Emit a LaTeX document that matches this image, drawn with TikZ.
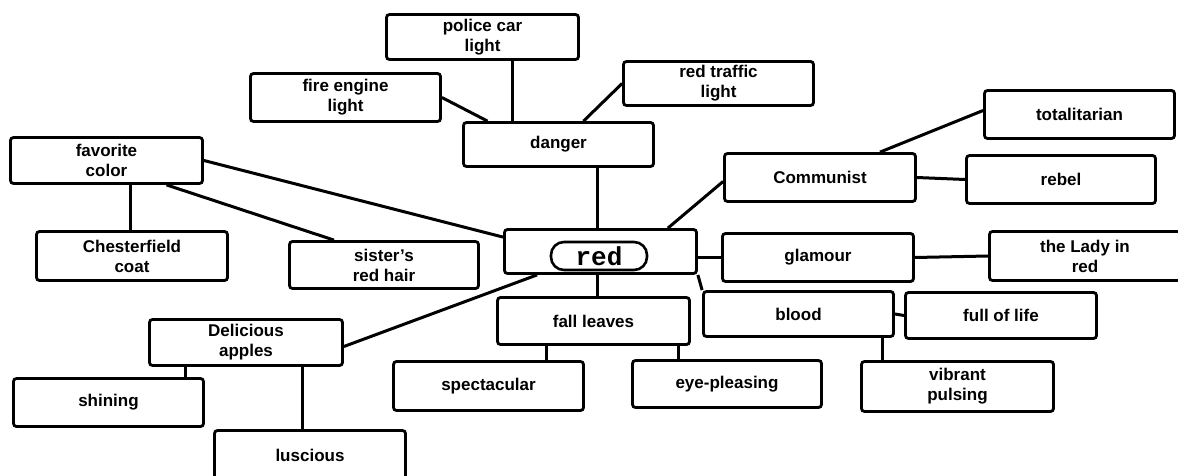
\documentclass[tikz,border=0pt]{standalone}
\usepackage{fontspec}
\setmainfont{Liberation Sans}
\newfontfamily\redmono{Liberation Mono}
\begin{document}
\begin{tikzpicture}[x=1pt,y=-1pt,
  cbox/.style={draw, line width=2.8pt, rounded corners=3pt, align=center, inner sep=0pt,
    font=\fontsize{17}{20}\selectfont\bfseries},
  conn/.style={line width=3pt}]
\useasboundingbox (0,0) rectangle (1178,476);
% nodes
\node[cbox, minimum width=192pt, minimum height=45pt] (police) at (482.5,37) {police car\\light};
\node[cbox, minimum width=190pt, minimum height=48pt] (fire) at (345.5,97.5) {fire engine\\light};
\node[cbox, minimum width=190pt, minimum height=44pt] (traffic) at (718.5,83.5) {red traffic\\light};
\node[cbox, minimum width=190pt, minimum height=44pt] (danger) at (558.5,144.5) {danger};
\node[cbox, minimum width=192pt, minimum height=46pt] (favorite) at (106.5,160.5) {favorite\\color};
\node[cbox, minimum width=191pt, minimum height=49pt] (chester) at (132,256) {Chesterfield\\coat};
\node[cbox, minimum width=189pt, minimum height=47pt] (sister) at (384,265) {sister's\\red hair};
\node[cbox, minimum width=192pt, minimum height=44pt] (red) at (600.5,251.5) {};
\node[draw, line width=2.6pt, rounded corners=13pt, minimum width=96pt, minimum height=28pt, inner sep=0pt,
  font=\fontsize{26}{26}\selectfont\redmono\bfseries] (redlabel) at (599,256) {red};
\node[cbox, minimum width=191pt, minimum height=48pt] (communist) at (820,177.5) {Communist};
\node[cbox, minimum width=190pt, minimum height=48pt] (totalitarian) at (1079.5,114.5) {totalitarian};
\node[cbox, minimum width=189pt, minimum height=48pt] (rebel) at (1061,179.5) {rebel};
\node[cbox, minimum width=191pt, minimum height=48pt] (glamour) at (818,257.5) {glamour};
\node[cbox, minimum width=191pt, minimum height=49pt] (lady) at (1085,256) {the Lady in\\red};
\node[cbox, minimum width=190pt, minimum height=45pt] (blood) at (798.5,314) {blood};
\node[cbox, minimum width=191pt, minimum height=46pt] (full) at (1001,315.5) {full of life};
\node[cbox, minimum width=192pt, minimum height=47pt] (fall) at (593.5,321) {fall leaves};
\node[cbox, minimum width=190pt, minimum height=49pt] (spectacular) at (488.5,386) {spectacular};
\node[cbox, minimum width=189pt, minimum height=47pt] (eye) at (727,384) {eye-pleasing};
\node[cbox, minimum width=192pt, minimum height=50pt] (vibrant) at (957.5,386.5) {vibrant\\pulsing};
\node[cbox, minimum width=193pt, minimum height=46pt] (delicious) at (246,342.5) {Delicious\\apples};
\node[cbox, minimum width=190pt, minimum height=48pt] (shining) at (108.5,402.5) {shining};
\node[cbox, minimum width=191pt, minimum height=49pt] (luscious) at (310,455) {luscious};
% connectors
\draw[conn] ([xshift=29.5pt]police.south) -- ([xshift=29.5pt]police.south |- danger.north);
\draw[conn] (fire.east) -- ([xshift=-71pt]danger.north);
\draw[conn] (traffic.west) -- ([xshift=25pt]danger.north);
\draw[conn] ([xshift=-3pt]red.north) -- ([xshift=-3pt]red.north |- danger.south);
\draw[conn] (favorite.east) -- ([yshift=-9pt]red.north west);
\draw[conn] ([xshift=-2pt]chester.north) -- ([xshift=-2pt]chester.north |- favorite.south);
\draw[conn] ([xshift=60pt]favorite.south) -- ([xshift=-50pt]sister.north);
\draw[conn] ([yshift=-4pt]communist.west) -- ([xshift=-30pt]red.north east);
\draw[conn] ([xshift=60pt]communist.north) -- ([yshift=4pt]totalitarian.west);
\draw[conn] (communist.east) -- (rebel.west);
\draw[conn] (glamour.west) -- (glamour.west -| red.east);
\draw[conn] (glamour.east) -- (lady.west);
\draw[conn] (red.south east) -- (blood.north west);
\draw[conn] (blood.east) -- (full.west);
\draw[conn] ([xshift=83.5pt]blood.south) -- ([xshift=83.5pt]blood.south |- vibrant.north);
\draw[conn] ([xshift=-3.5pt]red.south) -- ([xshift=-3.5pt]red.south |- fall.north);
\draw[conn] ([xshift=-47.5pt]fall.south) -- ([xshift=-47.5pt]fall.south |- spectacular.north);
\draw[conn] ([xshift=84.5pt]fall.south) -- ([xshift=84.5pt]fall.south |- eye.north);
\draw[conn] ([xshift=34pt]red.south west) -- ([yshift=-4pt]delicious.east);
\draw[conn] ([xshift=-61pt]delicious.south) -- ([xshift=-61pt]delicious.south |- shining.north);
\draw[conn] ([xshift=56pt]delicious.south) -- ([xshift=56pt]delicious.south |- luscious.north);
\end{tikzpicture}
\end{document}
